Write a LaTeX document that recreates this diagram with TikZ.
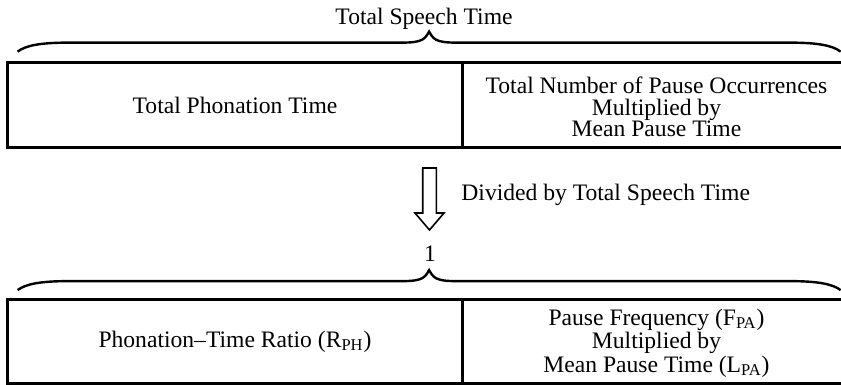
\documentclass[tikz,border=0pt]{standalone}
\usepackage{fontspec}
\setmainfont{Liberation Serif}
\usepackage{tikz}
\usetikzlibrary{arrows.meta,positioning}

\begin{document}
\begin{tikzpicture}[
  x=0.5pt, y=-0.5pt,
  every node/.style={font=\fontsize{11.8}{10.7}\selectfont, align=center, inner sep=0pt},
  cell/.style={draw=none, minimum height=42pt},
  frame/.style={line width=1.6pt},
  divider/.style={line width=1.1pt},
  hollow/.style={line width=0.8pt, line join=miter},
  curly/.pic={
    \draw [line width=1.2pt] (0,0) .. controls +(8,-6) and +(-30,0) .. ++(52,-9) -- ++(333.5,0)
      .. controls +(20,0) and +(-4,7) .. ++(26,-11) .. controls +(4,7) and +(-20,0) .. ++(26,11)
      -- ++(333.5,0) .. controls +(30,0) and +(-8,-6) .. ++(52,9);
  }
]
  \useasboundingbox (0,0) rectangle (841,385);

  % Nodes
  \node (phon) [cell, minimum width=227pt] at (235,105) {Total Phonation Time};
  \node (pause) [cell, minimum width=194.5pt] at (656.5,107) {Total Number of Pause Occurrences\\Multiplied by\\Mean Pause Time};
  \node (speech) [anchor=base] at (424,25) {Total Speech Time};

  \coordinate (arrtop) at (429.5,168);
  \node (divided) [anchor=base west] at (461,200) {Divided by Total Speech Time};
  \node (one) [anchor=base] at (430,261) {1};

  \node (ratio) [cell, minimum width=227pt] at (235,341.5) {Phonation--Time Ratio (R\textsubscript{PH})};
  \node (freq) [cell, minimum width=194.5pt] at (656.5,343) {Pause Frequency (F\textsubscript{PA})\\Multiplied by\\Mean Pause Time (L\textsubscript{PA})};

  % Tables
  \draw [frame] (phon.north west) rectangle (pause.east |- phon.south);
  \draw [divider] (phon.north east) -- (phon.south east);
  \draw [frame] (ratio.north west) rectangle (freq.east |- ratio.south);
  \draw [divider] (ratio.north east) -- (ratio.south east);

  % Braces
  \pic at ([xshift=5pt, yshift=5.5pt]phon.north west) {curly};
  \pic at ([xshift=5pt, yshift=4.5pt]ratio.north west) {curly};

  % Arrow
  \draw [hollow] ([xshift=-3.4pt]arrtop) -- ++(0,45) -- ++(-7.7,0) -- (429.5,230) -- (444,213) -- ++(-7.7,0) -- ([xshift=3.4pt]arrtop) -- cycle;
\end{tikzpicture}
\end{document}
